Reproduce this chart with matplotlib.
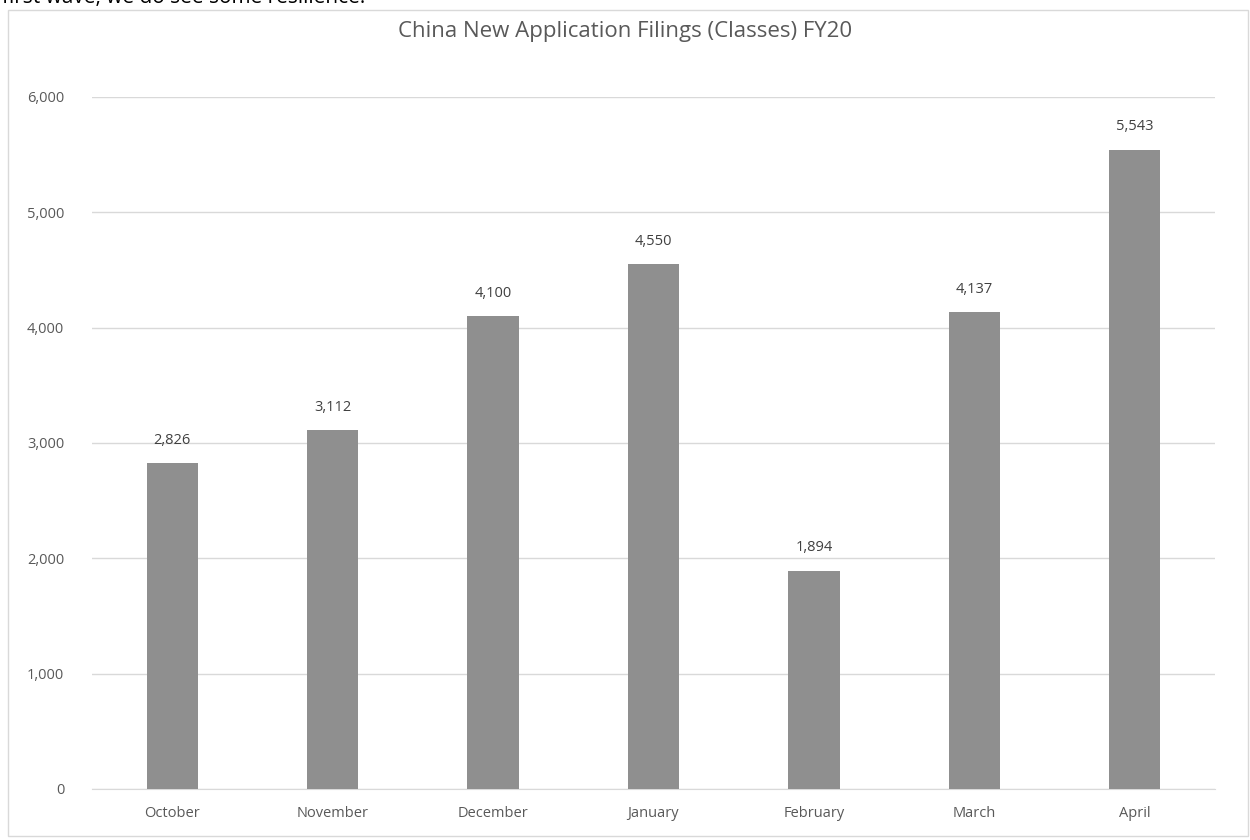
import matplotlib
matplotlib.use("Agg")
import matplotlib.pyplot as plt
from matplotlib.patches import Rectangle

months = ["October", "November", "December", "January", "February", "March", "April"]
filings = [2826, 3112, 4100, 4550, 1894, 4137, 5543]
yticks = [0, 1000, 2000, 3000, 4000, 5000, 6000]
title = "China New Application Filings (Classes) FY20"
caption = "first wave, we do see some resilience."

plt.rcParams['font.family'] = ['Open Sans', 'DejaVu Sans']

fig = plt.figure(figsize=(12.5, 8.4), dpi=100)
fig.patch.set_facecolor("white")

# chart border
fig.add_artist(Rectangle((8/1250, 1 - 836/840), 1240/1250, (836-10)/840,
                         transform=fig.transFigure, fill=False,
                         edgecolor="#d9d9d9", linewidth=1.0))
# caption text at the top (partly cut off, as in the screenshot)
fig.text(2/1250, 1 + 2/840, caption, fontsize=15, color="#000000",
         ha="left", va="center")

ax = fig.add_axes([92/1250, 1 - 789/840, (1215-92)/1250, (789-97)/840])
x = list(range(len(months)))
ax.bar(x, filings, width=0.32, color="#8f8f8f", zorder=3)
ax.set_xlim(-0.5, len(months) - 0.5)
ax.set_ylim(0, 6000)
ax.set_yticks(yticks)
ax.set_yticklabels([f"{v:,}" for v in yticks])
ax.set_xticks(x)
ax.set_xticklabels(months)
ax.grid(axis="y", color="#d9d9d9", linewidth=1.0, zorder=0)
for s in ["top", "right", "left"]:
    ax.spines[s].set_visible(False)
ax.spines["bottom"].set_color("#d9d9d9")
ax.tick_params(axis="both", length=0, labelsize=10.5, labelcolor="#595959")
ax.tick_params(axis="y", pad=20)
ax.tick_params(axis="x", pad=12)

for xi, v in zip(x, filings):
    ax.annotate(f"{v:,}", (xi, v), xytext=(0, 11), textcoords="offset points",
                ha="center", va="bottom", fontsize=10.5, color="#404040")

fig.text(0.5, 1 - 32/840, title, ha="center", va="center", fontsize=16, color="#595959")

fig.savefig("out.png", dpi=100)
